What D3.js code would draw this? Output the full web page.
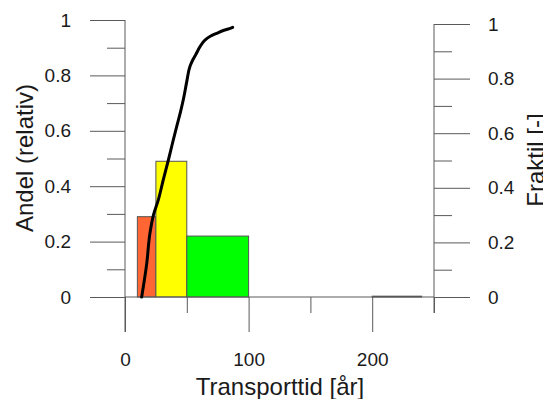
<!DOCTYPE html>
<html>
<head>
<meta charset="utf-8">
<script src="https://cdn.jsdelivr.net/npm/d3@7"></script>
<style>
  html, body { margin: 0; padding: 0; background: #fff; overflow: hidden; }
  svg { display: block; }
  text { font-family: "Liberation Sans", Arial, sans-serif; fill: #1a1a1a; }
</style>
</head>
<body>
<svg id="chart" width="543" height="399"></svg>
<script>
// ---- data ----
const binStart = [10, 25, 50, 200];
const binEnd   = [25, 50, 100, 240];
const binShare = [0.29, 0.49, 0.22, 0.003];
const binColor = ["#ff6633", "#ffff00", "#00ff00", "#555555"];

const cdfTime  = [13.5, 17.6, 20.2, 23.0, 26.9, 31.0, 35.0, 38.5, 41.8, 45.0, 47.5, 50.0, 52.6, 55.0, 57.5, 60.7, 64.7, 69.0, 74.2, 80.0, 84.5, 87.1];
const cdfFrac  = [0.0, 0.123, 0.234, 0.30, 0.355, 0.43, 0.50, 0.565, 0.624, 0.68, 0.73, 0.79, 0.845, 0.87, 0.89, 0.917, 0.941, 0.955, 0.966, 0.977, 0.983, 0.988];

const xTicks      = [0, 100, 200];
const xMinorTicks = [50, 150, 250];
const yTicks      = [0, 0.2, 0.4, 0.6, 0.8, 1];
const yMinorTicks = [0.1, 0.3, 0.5, 0.7, 0.9];

const xTitle  = "Transporttid [år]";
const yLTitle = "Andel (relativ)";
const yRTitle = "Fraktil [-]";

// ---- layout ----
const svg = d3.select("#chart");
const x  = d3.scaleLinear().domain([0, 250]).range([125, 434]);
const yL = d3.scaleLinear().domain([0, 1]).range([297, 20]);
const yR = d3.scaleLinear().domain([0, 1]).range([297, 24]);
const axisColor = "#5a5a5a";
const fmt = d => d3.format("~g")(d);

// bars
svg.append("g").selectAll("rect")
  .data(binShare.map((v, i) => ({ s: binStart[i], e: binEnd[i], v, c: binColor[i] })))
  .join("rect")
  .attr("x", d => x(d.s))
  .attr("width", d => x(d.e) - x(d.s))
  .attr("y", d => yL(d.v))
  .attr("height", d => yL(0) - yL(d.v))
  .attr("fill", d => d.c)
  .attr("stroke", "#555")
  .attr("stroke-width", 1);

function styleAxis(g) {
  g.select(".domain").remove();
  g.selectAll(".tick line").attr("stroke", axisColor).attr("stroke-width", 1);
  g.selectAll(".tick text").style("font-family", "'Liberation Sans', Arial, sans-serif")
    .style("font-size", "19px").attr("fill", "#1a1a1a");
}

// left axis
svg.append("g").attr("transform", "translate(125,0)")
  .call(d3.axisLeft(yL).tickValues(yTicks).tickSize(35).tickPadding(19).tickFormat(fmt))
  .call(styleAxis);
svg.append("g").attr("transform", "translate(125,0)")
  .call(d3.axisLeft(yL).tickValues(yMinorTicks).tickSize(18).tickFormat(""))
  .call(styleAxis);
svg.append("line")
  .attr("x1", x(0)).attr("x2", x(0))
  .attr("y1", yL(1)).attr("y2", yL(0) + 35)
  .attr("stroke", axisColor).attr("stroke-width", 1);

// right axis
svg.append("g").attr("transform", "translate(434,0)")
  .call(d3.axisRight(yR).tickValues(yTicks).tickSize(36).tickPadding(18).tickFormat(fmt))
  .call(styleAxis);
svg.append("g").attr("transform", "translate(434,0)")
  .call(d3.axisRight(yR).tickValues(yMinorTicks).tickSize(18).tickFormat(""))
  .call(styleAxis);
svg.append("line")
  .attr("x1", x(250)).attr("x2", x(250))
  .attr("y1", yR(1)).attr("y2", yR(0) + 16)
  .attr("stroke", axisColor).attr("stroke-width", 1);

// bottom axis
svg.append("g").attr("transform", "translate(0,297)")
  .call(d3.axisBottom(x).tickValues(xTicks).tickSize(35).tickPadding(21).tickFormat(fmt))
  .call(styleAxis);
svg.append("g").attr("transform", "translate(0,297)")
  .call(d3.axisBottom(x).tickValues(xMinorTicks).tickSize(16).tickFormat(""))
  .call(styleAxis);
svg.append("line")
  .attr("x1", x(0)).attr("x2", x(250))
  .attr("y1", yL(0)).attr("y2", yL(0))
  .attr("stroke", axisColor).attr("stroke-width", 1);

// CDF line
const line = d3.line()
  .x((d, i) => x(cdfTime[i]))
  .y((d, i) => yR(cdfFrac[i]))
  .curve(d3.curveMonotoneY);
svg.append("path")
  .attr("d", line(cdfTime))
  .attr("fill", "none")
  .attr("stroke", "#000")
  .attr("stroke-width", 3)
  .attr("stroke-linecap", "round")
  .attr("stroke-linejoin", "round");

// titles
svg.append("text")
  .attr("x", 280).attr("y", 395)
  .attr("text-anchor", "middle")
  .style("font-size", "24px")
  .text(xTitle);
svg.append("text")
  .attr("transform", "translate(33,158) rotate(-90)")
  .attr("text-anchor", "middle")
  .style("font-size", "24px")
  .text(yLTitle);
svg.append("text")
  .attr("transform", "translate(544,160) rotate(-90)")
  .attr("text-anchor", "middle")
  .style("font-size", "24px")
  .text(yRTitle);
</script>
</body>
</html>
